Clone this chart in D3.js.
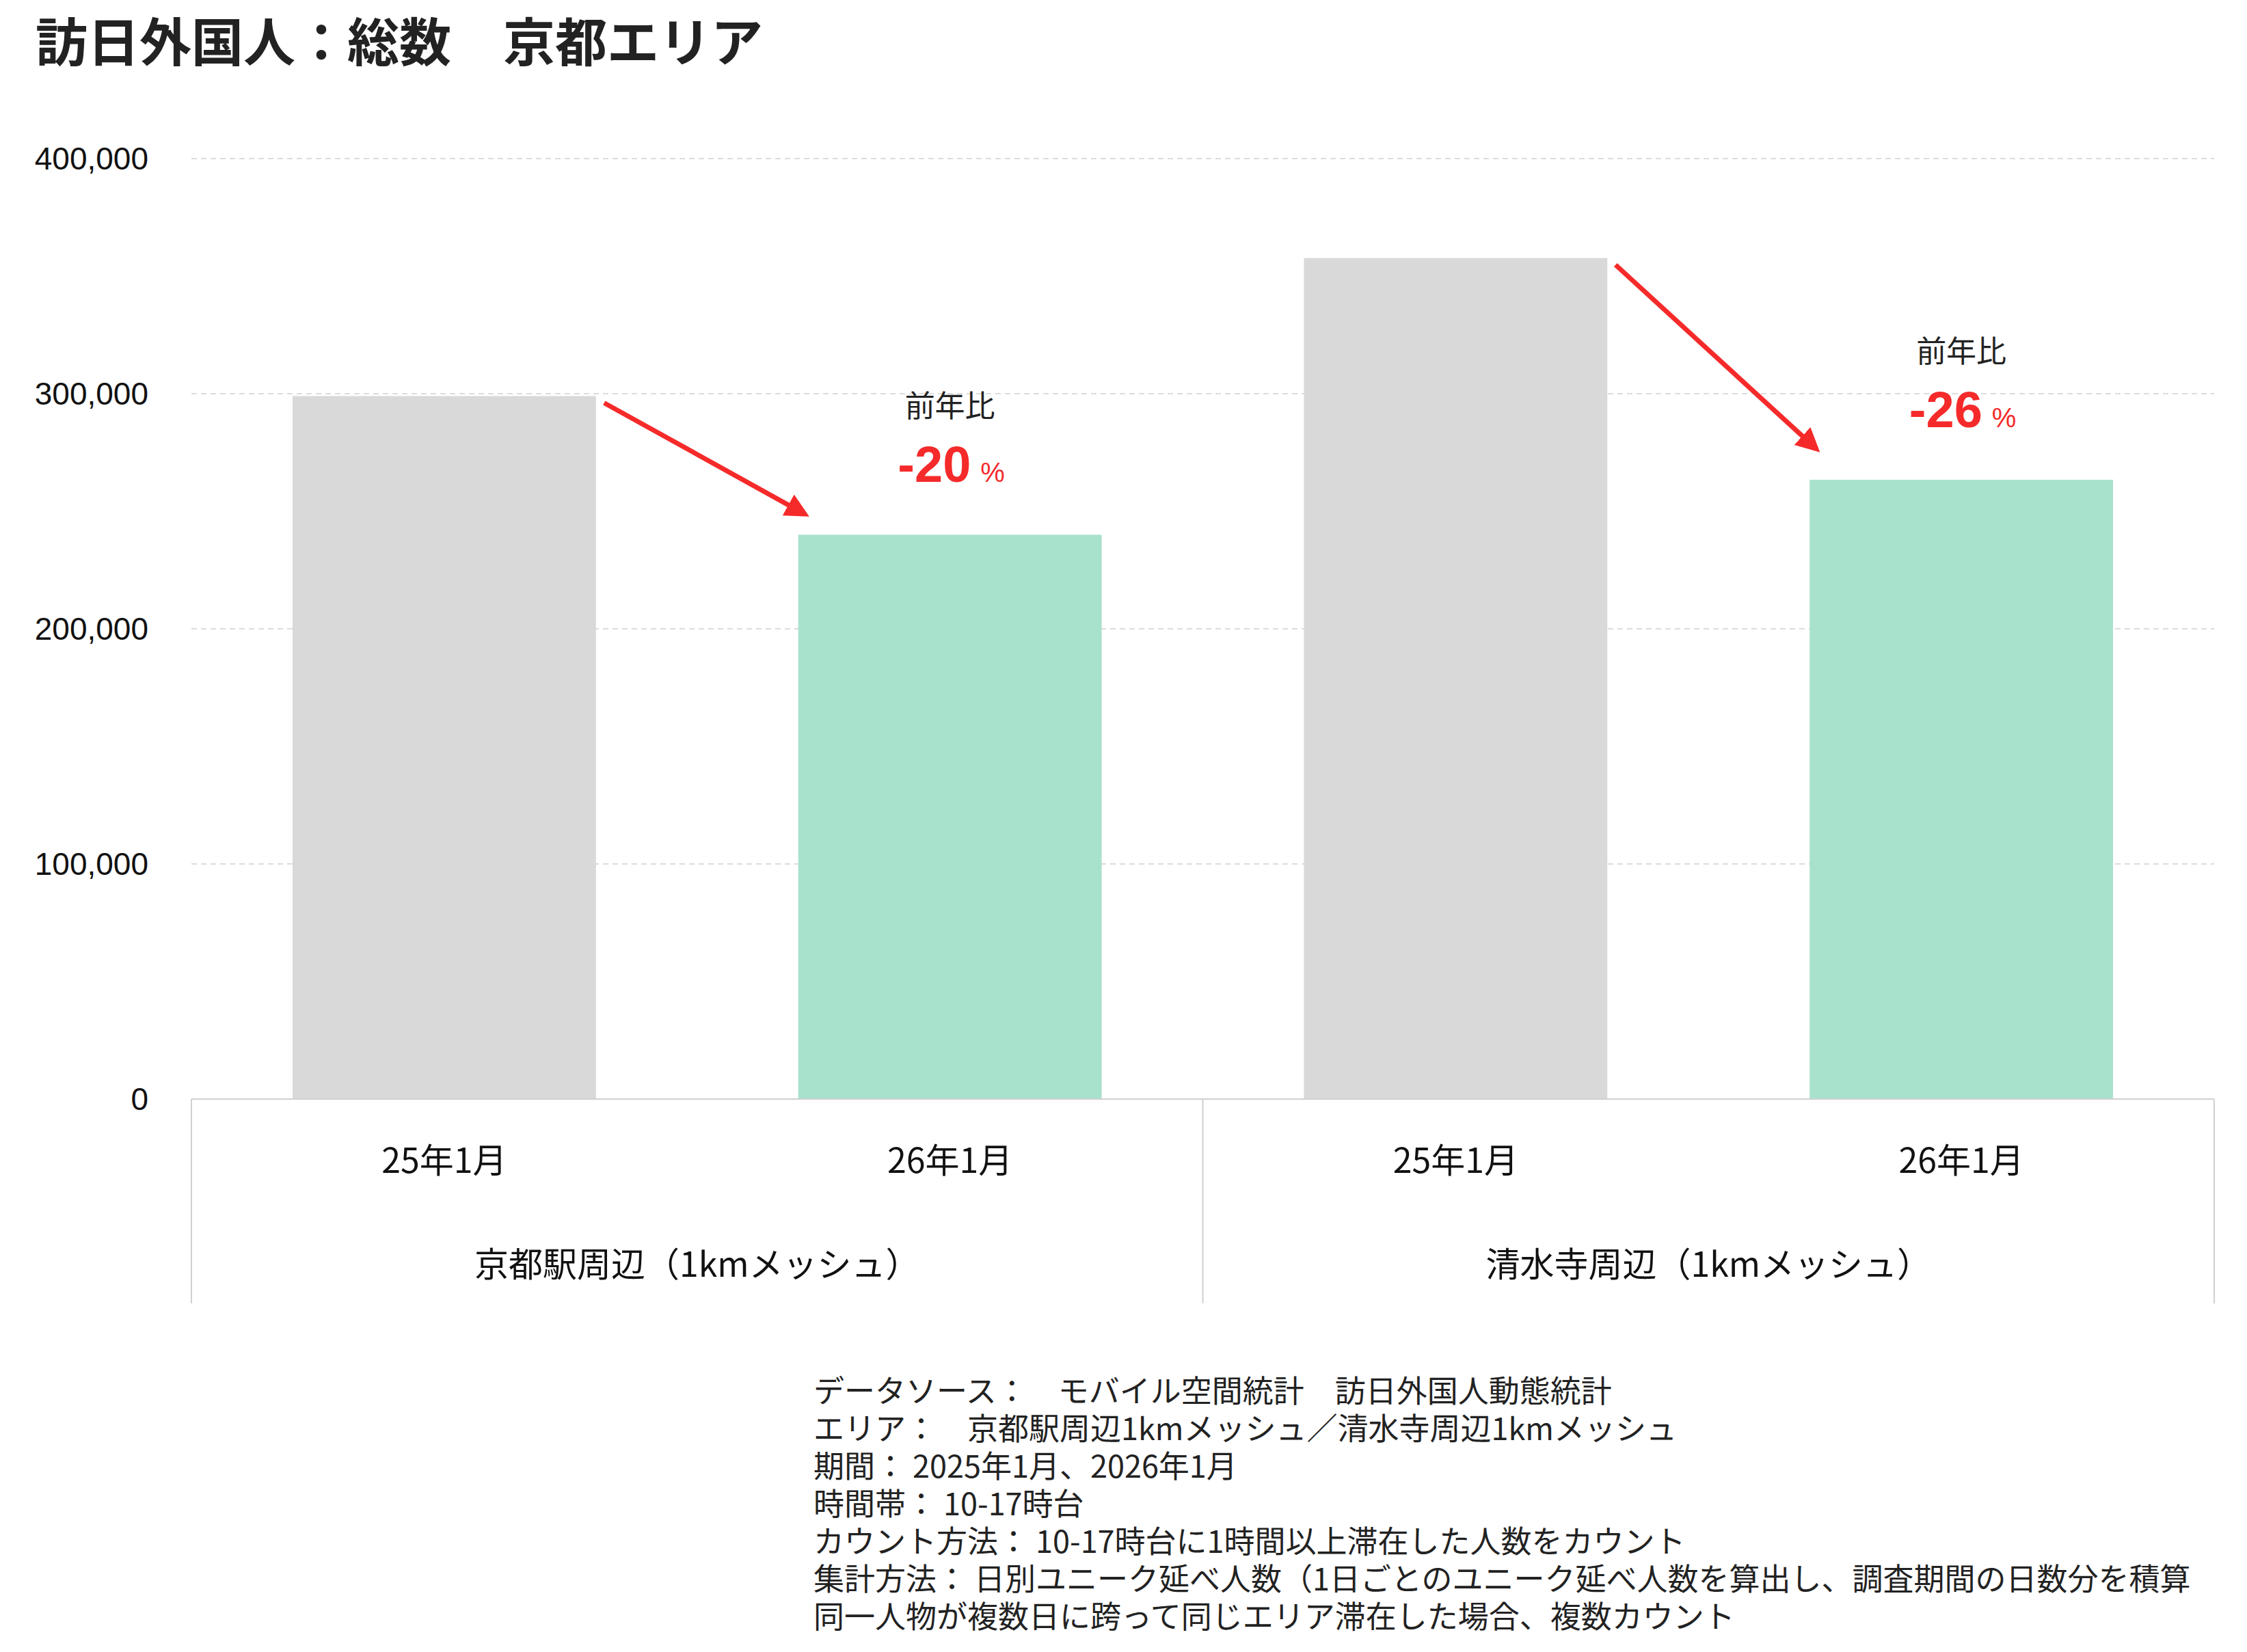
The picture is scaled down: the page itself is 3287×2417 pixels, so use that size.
<!DOCTYPE html>
<html><head><meta charset="utf-8">
<script src="https://cdn.jsdelivr.net/npm/d3@7"></script>
<style>body{margin:0;background:#fff}text{font-family:"Noto Sans CJK JP","Noto Sans",sans-serif}</style>
</head><body><svg id="chart" width="3287" height="2417"></svg>
<script>
var groups = ["京都駅周辺（1kmメッシュ）", "清水寺周辺（1kmメッシュ）"];
var months = ["25年1月", "26年1月"];
var values = [[299000, 240000], [357700, 263400]];
var changes = ["-20", "-26"];
var yTicks = [0, 100000, 200000, 300000, 400000];
var notes = [
  "データソース：　モバイル空間統計　訪日外国人動態統計",
  "エリア：　京都駅周辺1kmメッシュ／清水寺周辺1kmメッシュ",
  "期間： 2025年1月、2026年1月",
  "時間帯： 10-17時台",
  "カウント方法： 10-17時台に1時間以上滞在した人数をカウント",
  "集計方法： 日別ユニーク延べ人数（1日ごとのユニーク延べ人数を算出し、調査期間の日数分を積算",
  "同一人物が複数日に跨って同じエリア滞在した場合、複数カウント"
];

var svg = d3.select("#chart");
var plotLeft = 280, plotRight = 3239, plotTop = 232, plotBottom = 1608, boxBottom = 1907;

var x0 = d3.scaleBand().domain(groups).range([plotLeft, plotRight]);
var x1 = d3.scaleBand().domain(months).range([0, x0.bandwidth()]).paddingInner(0.4).paddingOuter(0.2);
var y = d3.scaleLinear().domain([0, 400000]).range([plotBottom, plotTop]);

svg.append("text").attr("x", 52).attr("y", 90)
  .style("font-size", "76px").style("font-weight", "bold").attr("fill", "#222")
  .text("訪日外国人：総数　京都エリア");

// grid
svg.selectAll(".grid").data(yTicks.slice(1)).enter().append("line")
  .attr("x1", plotLeft).attr("x2", plotRight).attr("y1", y).attr("y2", y)
  .attr("stroke", "#dcdcdc").attr("stroke-width", 2).attr("stroke-dasharray", "8,6");

svg.selectAll(".ytick").data(yTicks).enter().append("text")
  .attr("x", 217).attr("y", function(d) { return y(d); }).attr("dy", "0.35em")
  .attr("text-anchor", "end").style("font-size", "46px").attr("fill", "#111")
  .style("font-family", "Liberation Sans, Arial, sans-serif")
  .text(d3.format(","));

var colors = ["#d9d9d9", "#a8e2cd"];
var g = svg.selectAll(".grp").data(groups).enter().append("g")
  .attr("transform", function(d) { return "translate(" + x0(d) + ",0)"; });

g.selectAll("rect").data(function(d, i) { return values[i]; }).enter().append("rect")
  .attr("x", function(d, j) { return x1(months[j]); })
  .attr("y", function(d) { return y(d); })
  .attr("width", x1.bandwidth())
  .attr("height", function(d) { return plotBottom - y(d); })
  .attr("fill", function(d, j) { return colors[j]; });

g.selectAll(".mlab").data(months).enter().append("text")
  .attr("x", function(d) { return x1(d) + x1.bandwidth() / 2; }).attr("y", 1698).attr("dy", "0.35em")
  .attr("text-anchor", "middle").style("font-size", "50px").attr("fill", "#111").text(function(d) { return d; });

g.append("text").attr("x", x0.bandwidth() / 2).attr("y", 1850).attr("dy", "0.35em")
  .attr("text-anchor", "middle").style("font-size", "50px").attr("fill", "#111").text(function(d) { return d; });

// axis box
var ax = svg.append("g").attr("stroke", "#d0d0d0").attr("stroke-width", 2);
ax.append("line").attr("x1", plotLeft).attr("x2", plotRight).attr("y1", plotBottom).attr("y2", plotBottom);
[plotLeft, plotLeft + x0.bandwidth(), plotRight].forEach(function(v) {
  ax.append("line").attr("x1", v).attr("x2", v).attr("y1", plotBottom).attr("y2", boxBottom);
});

// arrows & labels
svg.append("defs").append("marker").attr("id", "ah").attr("viewBox", "0 0 10 10")
  .attr("refX", 8).attr("refY", 5).attr("markerWidth", 5).attr("markerHeight", 5).attr("orient", "auto")
  .append("path").attr("d", "M0,0L10,5L0,10z").attr("fill", "#f52a2a");

groups.forEach(function(grp, i) {
  var gx = x0(grp);
  var xs = gx + x1(months[0]) + x1.bandwidth() + 12;
  var ys = y(values[i][0]) + 10;
  var xe = gx + x1(months[1]) + 10;
  var ye = y(values[i][1]) - (i === 0 ? 30 : 45);
  svg.append("line").attr("x1", xs).attr("y1", ys).attr("x2", xe).attr("y2", ye)
    .attr("stroke", "#f52a2a").attr("stroke-width", 7).attr("marker-end", "url(#ah)");
  var cx = gx + x1(months[1]) + x1.bandwidth() / 2;
  var top2 = y(values[i][1]);
  svg.append("text").attr("x", cx).attr("y", top2 - 172).attr("text-anchor", "middle")
    .style("font-size", "44px").attr("fill", "#222").text("前年比");
  var t = svg.append("text").attr("x", cx + 2).attr("y", top2 - 77).attr("text-anchor", "middle").attr("fill", "#f52a2a")
    .style("font-family", "Liberation Sans, Arial, sans-serif");
  t.append("tspan").style("font-size", "74px").style("font-weight", "bold").text(changes[i]);
  t.append("tspan").style("font-size", "40px").attr("dx", 14).text("%");
});

svg.selectAll(".note").data(notes).enter().append("text")
  .attr("x", 1190).attr("y", function(d, i) { return 2052 + i * 55; })
  .style("font-size", "45px").attr("fill", "#222").text(function(d) { return d; });
</script></body></html>
